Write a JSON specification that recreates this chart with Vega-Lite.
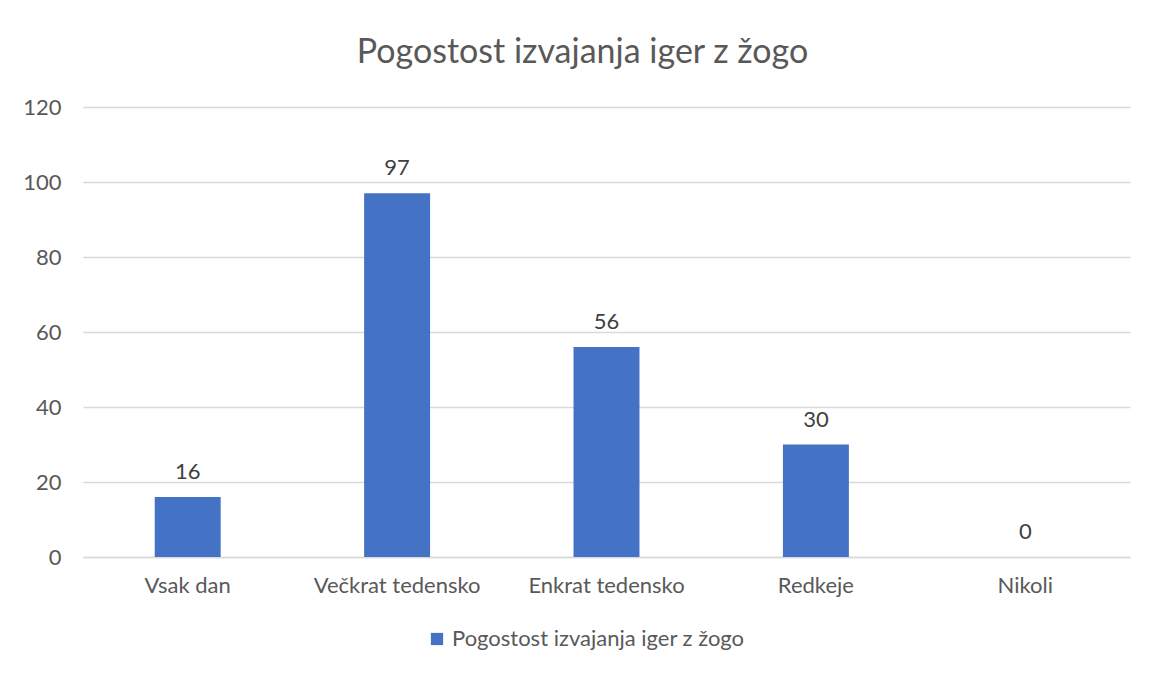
{
  "$schema": "https://vega.github.io/schema/vega-lite/v6.json",
  "width": 1047,
  "height": 450,
  "autosize": "none",
  "padding": {"left": 83, "top": 107, "right": 22, "bottom": 116},
  "background": "white",
  "config": {
    "font": "Lato",
    "view": {"stroke": null}
  },
  "title": {
    "text": "Pogostost izvajanja iger z žogo",
    "fontSize": 34,
    "fontWeight": "normal",
    "font": "Lato",
    "color": "#595959",
    "anchor": "middle",
    "frame": "group",
    "dx": -24,
    "offset": 26
  },
  "data": {
    "values": [
      {"kategorija": "Vsak dan", "vrednost": 16},
      {"kategorija": "Večkrat tedensko", "vrednost": 97},
      {"kategorija": "Enkrat tedensko", "vrednost": 56},
      {"kategorija": "Redkeje", "vrednost": 30},
      {"kategorija": "Nikoli", "vrednost": 0}
    ]
  },
  "encoding": {
    "x": {
      "field": "kategorija",
      "type": "nominal",
      "sort": null,
      "scale": {"paddingInner": 0.685, "paddingOuter": 0.3425},
      "axis": {
        "title": null,
        "labelAngle": 0,
        "labelFontSize": 22,
        "labelColor": "#595959",
        "labelPadding": 18,
        "ticks": false,
        "domainColor": "#d9d9d9",
        "domainWidth": 1.5
      }
    },
    "y": {
      "field": "vrednost",
      "type": "quantitative",
      "scale": {"domain": [0, 120]},
      "axis": {
        "title": null,
        "values": [0, 20, 40, 60, 80, 100, 120],
        "labelFontSize": 22,
        "labelColor": "#595959",
        "labelPadding": 22,
        "ticks": false,
        "domain": false,
        "gridColor": "#d9d9d9",
        "gridWidth": 1.5
      }
    }
  },
  "layer": [
    {
      "mark": {"type": "bar"},
      "encoding": {
        "color": {
          "datum": "Pogostost izvajanja iger z žogo",
          "scale": {"range": ["#4472C4"]},
          "legend": {
            "title": null,
            "orient": "none",
            "legendX": 343,
            "legendY": 521,
            "symbolType": "square",
            "symbolSize": 150,
            "symbolStrokeWidth": 0,
            "labelFontSize": 22,
            "labelLimit": 500,
            "labelColor": "#595959",
            "labelOffset": 4
          }
        }
      }
    },
    {
      "mark": {
        "type": "text",
        "fontSize": 22,
        "color": "#404040",
        "baseline": "alphabetic",
        "dy": -18
      },
      "encoding": {
        "text": {"field": "vrednost", "type": "quantitative"}
      }
    }
  ]
}
